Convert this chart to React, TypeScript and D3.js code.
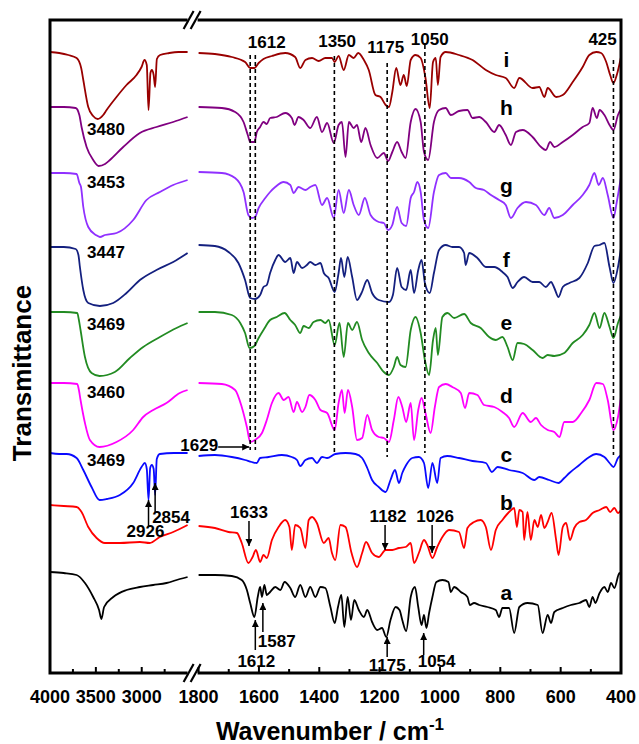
import React, { useEffect, useRef } from 'react';
import * as d3 from 'd3';

// transmittance (a.u., offset stacked): [wavenumber, value]
const aLeft = [[4000,10.1],[3850,10.0],[3710,9.8],[3619,9.0],[3529,7.6],[3465,6.3],[3440,5.4],[3410,6.6],[3311,7.6],[3166,8.3],[3020,8.6],[2875,8.8],[2730,9.0],[2585,9.4],[2500,9.6]];
const bLeft = [[4000,16.8],[3850,16.7],[3710,16.6],[3656,16.1],[3583,14.6],[3492,13.5],[3402,13.0],[3238,13.0],[3020,13.1],[2912,13.0],[2803,13.6],[2657,14.1],[2500,14.8]];
const cLeft = [[4000,22.0],[3900,21.9],[3819,21.9],[3710,21.5],[3637,20.3],[3547,18.6],[3460,17.3],[3380,17.4],[3238,17.8],[3093,19.0],[3002,20.6],[2966,21.0],[2945,20.4],[2926,17.3],[2908,20.5],[2890,20.8],[2870,20.4],[2854,17.8],[2836,21.4],[2803,21.9],[2650,22.0],[2500,22.0]];
const dLeft = [[4000,29.0],[3850,29.0],[3703,28.9],[3685,28.3],[3667,27.3],[3619,25.0],[3565,23.3],[3460,22.6],[3275,23.1],[3093,24.3],[2984,25.6],[2875,26.3],[2730,27.0],[2585,28.0],[2500,28.3]];
const eLeft = [[4000,36.1],[3850,36.1],[3703,36.0],[3685,35.3],[3667,34.3],[3619,31.6],[3547,30.0],[3460,29.7],[3293,30.1],[3129,31.5],[2984,32.6],[2802,33.6],[2621,34.5],[2500,35.0]];
const fLeft = [[4000,42.6],[3850,42.6],[3720,42.4],[3690,41.8],[3674,40.6],[3637,38.3],[3583,37.0],[3456,36.7],[3311,37.0],[3166,38.0],[3020,39.3],[2839,40.3],[2657,41.1],[2500,42.0]];
const gLeft = [[4000,50.0],[3850,50.0],[3710,49.9],[3680,49.0],[3662,48.6],[3637,46.6],[3583,44.6],[3500,43.8],[3456,43.6],[3400,43.8],[3274,44.0],[3093,45.3],[2948,47.3],[2802,48.1],[2657,48.8],[2500,49.3]];
const hLeft = [[4000,56.6],[3850,56.6],[3720,56.5],[3680,55.8],[3656,54.6],[3601,52.6],[3529,51.3],[3470,50.7],[3400,50.9],[3347,51.3],[3202,52.6],[3020,54.0],[2839,54.6],[2657,55.1],[2500,55.6]];
const iLeft = [[4000,62.1],[3900,62.0],[3800,61.8],[3710,61.5],[3660,60.5],[3637,59.3],[3583,56.6],[3530,55.7],[3480,55.4],[3420,55.8],[3383,56.3],[3275,57.6],[3166,58.8],[3057,59.8],[3002,60.6],[2970,61.3],[2945,60.8],[2926,56.3],[2905,60.0],[2890,60.3],[2870,59.8],[2854,58.6],[2835,61.4],[2800,61.8],[2700,62.0],[2600,62.1],[2500,62.1]];

const aRight = [[1800,9.8],[1746,9.8],[1690,9.7],[1657,9.3],[1640,8.3],[1629,7.0],[1615,5.6],[1604,7.6],[1596,8.6],[1590,7.6],[1582,8.8],[1574,7.8],[1563,8.1],[1546,8.6],[1529,8.3],[1515,9.1],[1496,8.5],[1480,7.6],[1463,8.8],[1446,7.6],[1430,8.6],[1413,7.6],[1396,8.6],[1380,8.5],[1363,6.6],[1349,5.0],[1338,6.6],[1327,7.8],[1317,4.6],[1306,7.6],[1295,5.3],[1284,7.3],[1269,6.3],[1252,5.6],[1241,6.3],[1225,5.1],[1208,4.3],[1192,4.5],[1178,3.6],[1164,5.3],[1147,6.6],[1134,6.3],[1125,5.3],[1112,4.2],[1097,7.6],[1083,8.6],[1072,6.6],[1061,4.8],[1053,5.8],[1045,4.5],[1036,6.0],[1025,7.6],[1012,9.1],[992,9.3],[972,9.1],[964,8.1],[953,8.6],[931,8.1],[909,7.6],[901,6.8],[887,7.0],[870,6.8],[843,6.6],[815,6.3],[804,5.6],[793,6.5],[771,6.5],[754,4.0],[737,6.6],[710,7.0],[676,6.8],[660,4.0],[643,5.8],[632,5.0],[621,6.1],[593,6.5],[566,6.8],[538,7.0],[516,7.3],[505,6.6],[494,7.6],[485,7.0],[471,8.0],[455,8.6],[444,8.1],[433,9.0],[422,8.5],[405,10.0],[400,9.7]];
const bRight = [[1800,14.7],[1746,14.5],[1701,14.1],[1673,14.0],[1657,13.0],[1635,11.0],[1621,11.6],[1610,12.3],[1596,11.1],[1585,11.8],[1574,11.5],[1557,13.3],[1535,14.6],[1513,15.3],[1499,14.6],[1491,12.3],[1480,14.8],[1463,14.5],[1446,12.5],[1435,15.3],[1424,15.6],[1408,15.0],[1385,13.0],[1369,13.5],[1358,12.0],[1347,11.3],[1330,14.8],[1313,14.6],[1293,12.0],[1275,10.6],[1258,12.0],[1245,13.1],[1225,12.0],[1203,11.6],[1180,12.3],[1158,12.3],[1136,12.5],[1114,12.6],[1097,13.0],[1086,11.0],[1070,12.0],[1053,13.3],[1042,12.8],[1025,11.5],[1009,12.6],[992,13.6],[970,14.3],[937,14.1],[920,12.5],[909,14.5],[887,15.1],[865,15.3],[848,14.6],[831,12.3],[815,14.3],[793,15.3],[771,16.1],[754,16.5],[745,14.6],[737,16.3],[726,16.1],[721,13.3],[710,16.1],[699,13.3],[687,15.3],[676,14.6],[665,15.8],[654,14.5],[643,15.1],[630,16.0],[615,13.3],[607,11.8],[593,14.6],[582,15.0],[569,13.3],[555,14.5],[538,15.1],[516,15.3],[494,16.0],[471,16.3],[449,16.6],[436,16.1],[422,16.5],[410,16.0],[400,16.3]];
const cRight = [[1800,21.7],[1746,21.8],[1690,21.6],[1646,21.3],[1624,21.1],[1607,21.0],[1596,21.5],[1568,21.6],[1524,21.8],[1491,21.6],[1474,21.3],[1463,20.7],[1446,21.3],[1424,21.5],[1408,21.0],[1391,21.6],[1374,21.5],[1347,21.9],[1313,22.0],[1280,21.9],[1258,21.5],[1241,20.5],[1225,19.3],[1203,18.6],[1180,18.1],[1164,19.3],[1149,20.3],[1136,19.0],[1125,20.0],[1112,20.8],[1092,21.5],[1070,21.6],[1053,21.0],[1039,18.5],[1025,21.0],[1009,19.0],[998,21.5],[976,21.7],[937,21.5],[892,21.2],[848,21.0],[828,20.1],[809,20.6],[771,20.3],[726,20.0],[687,19.3],[671,19.6],[638,19.3],[607,19.0],[588,19.5],[571,20.0],[538,20.8],[510,21.5],[482,21.9],[455,21.6],[438,21.0],[425,20.6],[410,21.5],[400,21.8]];
const dRight = [[1800,29.0],[1723,28.9],[1679,28.3],[1657,26.6],[1640,24.6],[1629,23.1],[1613,23.3],[1590,24.0],[1574,25.3],[1557,27.0],[1535,28.0],[1518,27.3],[1502,27.6],[1485,26.1],[1474,27.1],[1457,26.1],[1446,26.6],[1433,27.8],[1413,27.3],[1396,26.3],[1374,26.0],[1349,24.3],[1336,27.0],[1325,28.3],[1316,26.0],[1305,28.3],[1291,26.6],[1275,23.3],[1258,23.5],[1241,25.8],[1225,24.3],[1203,23.6],[1186,23.5],[1169,23.1],[1153,25.3],[1138,27.6],[1125,26.6],[1112,25.1],[1097,27.0],[1086,23.3],[1072,26.3],[1061,27.5],[1048,26.0],[1031,24.0],[1017,26.6],[1003,28.6],[981,28.9],[959,28.6],[931,28.0],[917,26.5],[903,28.0],[876,27.8],[854,26.8],[820,26.6],[793,26.1],[771,25.5],[754,24.6],[726,26.0],[699,25.1],[682,25.5],[665,24.8],[643,24.3],[621,24.1],[604,23.6],[588,25.1],[560,25.1],[532,26.0],[505,27.3],[482,29.0],[460,28.9],[444,27.3],[425,24.3],[410,25.6],[400,27.6]];
const eRight = [[1800,36.1],[1746,36.1],[1690,35.8],[1662,35.0],[1646,34.0],[1631,32.5],[1615,32.7],[1601,33.5],[1585,34.3],[1563,35.3],[1541,35.6],[1515,36.0],[1496,35.3],[1480,34.8],[1463,34.0],[1452,34.7],[1435,34.5],[1419,35.1],[1396,35.3],[1380,35.0],[1369,35.3],[1349,32.8],[1333,35.0],[1319,31.6],[1305,35.0],[1291,34.3],[1275,35.1],[1258,33.3],[1236,32.0],[1208,31.0],[1186,30.1],[1169,29.8],[1153,30.6],[1142,31.6],[1131,30.8],[1114,30.6],[1097,34.3],[1081,35.6],[1064,34.0],[1050,31.3],[1036,29.8],[1023,33.3],[1014,34.5],[1007,31.8],[992,35.6],[975,36.0],[953,35.5],[920,35.9],[898,35.0],[865,34.5],[837,33.6],[815,33.3],[793,33.6],[776,32.6],[759,31.3],[743,33.0],[721,32.9],[693,32.3],[660,31.5],[643,31.8],[621,31.7],[588,32.0],[560,33.0],[527,33.8],[505,34.8],[488,36.0],[471,34.5],[455,36.0],[438,34.6],[425,33.5],[410,35.0],[400,35.8]];
const fRight = [[1800,42.8],[1746,42.7],[1701,42.1],[1668,41.0],[1646,39.3],[1629,37.5],[1613,37.4],[1596,37.8],[1585,38.6],[1574,38.8],[1563,40.0],[1546,41.3],[1535,41.8],[1513,41.1],[1496,41.5],[1485,40.0],[1474,41.1],[1457,40.5],[1441,40.8],[1430,41.1],[1413,40.8],[1396,41.0],[1385,40.0],[1369,39.5],[1349,38.1],[1336,40.0],[1328,41.5],[1317,39.6],[1306,41.6],[1291,39.6],[1275,37.3],[1260,38.0],[1241,39.3],[1225,38.0],[1203,37.3],[1169,37.1],[1156,37.8],[1142,40.5],[1127,38.6],[1112,38.3],[1097,40.3],[1086,38.0],[1072,40.3],[1061,41.3],[1050,39.0],[1034,38.0],[1020,40.0],[1003,42.3],[981,42.8],[959,42.6],[937,42.6],[920,42.0],[915,40.8],[903,42.0],[876,41.5],[848,40.6],[820,40.6],[793,40.1],[776,39.6],[759,38.5],[743,39.1],[721,39.6],[693,39.1],[671,39.1],[649,38.6],[632,39.1],[621,38.5],[607,37.6],[593,38.6],[571,39.0],[538,39.5],[510,41.0],[488,42.7],[471,42.8],[455,43.0],[438,40.6],[425,39.0],[410,40.6],[400,42.5]];
const gRight = [[1800,50.1],[1723,50.0],[1679,49.5],[1651,48.1],[1635,45.8],[1624,45.5],[1613,45.6],[1601,46.5],[1579,47.5],[1563,48.1],[1546,48.6],[1518,49.1],[1496,48.8],[1485,48.0],[1469,48.6],[1446,48.3],[1430,48.6],[1413,48.8],[1391,46.8],[1374,47.5],[1352,45.5],[1336,48.3],[1319,46.0],[1302,48.3],[1286,46.8],[1269,45.8],[1249,47.5],[1230,45.8],[1203,45.1],[1186,45.0],[1172,44.3],[1158,44.8],[1142,46.6],[1127,45.0],[1112,44.7],[1097,47.5],[1086,48.1],[1075,49.1],[1064,48.1],[1053,45.3],[1039,44.5],[1020,48.1],[1003,49.8],[981,50.0],[964,49.5],[937,49.5],[903,49.1],[881,48.5],[854,48.3],[831,47.8],[804,47.3],[782,46.8],[765,45.5],[743,46.5],[715,47.1],[682,46.8],[654,45.8],[638,46.5],[621,45.5],[593,45.8],[560,46.8],[527,47.8],[505,48.8],[488,50.0],[474,48.8],[460,49.5],[444,47.8],[425,45.5],[414,47.1],[400,49.6]];
const hRight = [[1800,56.6],[1723,56.5],[1679,56.1],[1651,55.1],[1637,53.8],[1629,53.1],[1615,53.1],[1607,54.1],[1596,54.6],[1585,55.1],[1574,54.9],[1563,55.5],[1541,55.6],[1513,56.0],[1491,55.5],[1482,54.8],[1469,55.6],[1452,55.3],[1430,54.5],[1408,55.6],[1391,54.1],[1374,55.0],[1352,53.0],[1336,54.8],[1325,55.1],[1313,51.6],[1302,55.1],[1286,54.5],[1275,54.8],[1261,53.1],[1247,54.5],[1230,52.8],[1208,51.5],[1186,52.0],[1172,51.2],[1158,52.1],[1142,53.1],[1127,52.1],[1114,51.5],[1097,55.1],[1081,56.4],[1064,55.1],[1053,52.1],[1039,51.3],[1020,55.1],[1003,56.3],[981,56.5],[964,55.8],[937,56.2],[909,56.3],[892,55.5],[870,55.6],[848,55.1],[820,54.1],[804,54.8],[782,53.8],[765,52.8],[748,54.1],[726,54.3],[693,53.6],[665,52.6],[649,52.3],[635,53.1],[621,52.6],[593,53.1],[560,53.8],[527,54.6],[505,55.0],[494,56.5],[480,55.5],[471,56.3],[455,55.8],[438,54.8],[425,54.3],[410,55.8],[400,56.4]];
const iRight = [[1800,62.0],[1746,61.9],[1690,61.6],[1646,61.1],[1629,60.5],[1615,60.5],[1601,61.0],[1585,61.4],[1557,61.7],[1513,62.0],[1480,61.6],[1463,60.5],[1446,61.3],[1424,61.5],[1402,61.2],[1380,61.5],[1358,61.5],[1349,61.1],[1336,61.7],[1319,60.3],[1302,61.8],[1286,61.5],[1271,62.0],[1252,61.3],[1236,60.3],[1214,57.8],[1197,57.6],[1180,56.8],[1169,56.6],[1158,58.1],[1145,60.5],[1131,58.8],[1120,59.8],[1110,58.7],[1097,61.3],[1081,61.8],[1064,61.5],[1048,59.5],[1034,56.5],[1023,61.1],[1014,61.5],[1007,58.8],[998,61.6],[981,62.1],[937,61.8],[892,61.3],[848,60.3],[815,59.8],[782,59.5],[754,58.5],[737,59.5],[693,58.5],[671,58.6],[654,57.6],[643,58.5],[615,57.6],[593,57.8],[560,59.1],[527,60.6],[505,61.8],[482,62.1],[466,62.0],[449,61.1],[436,59.8],[425,59.0],[414,59.8],[400,61.6]];

const seriesNames = ['a', 'b', 'c', 'd', 'e', 'f', 'g', 'h', 'i'];
const seriesColors = ['#000000', '#ff0000', '#0a0aff', '#ff00ff', '#228b22', '#14207f', '#9030ff', '#800080', '#990000'];
const leftData = [aLeft, bLeft, cLeft, dLeft, eLeft, fLeft, gLeft, hLeft, iLeft];
const rightData = [aRight, bRight, cRight, dRight, eRight, fRight, gRight, hRight, iRight];
// baseline of each letter label (wavenumber 780)
const letterY = [7.3, 16.3, 21.1, 27.0, 34.3, 40.6, 48.0, 55.8, 60.6];

// O-H band labels on the left part
const ohLabels = ['3469', '3460', '3469', '3447', '3453', '3480'];
const ohLabelY = [20.7, 27.5, 34.3, 41.5, 48.5, 53.8];

// dashed guide lines
const guideWn = [1629, 1612, 1350, 1175, 1050, 425];
const guideTop = [61.8, 61.8, 61.7, 61.0, 62.8, 61.3];
const guideBottom = [22.3, 22.3, 22.0, 21.6, 22.0, 21.8];
const topLabels = ['1612', '1350', '1175', '1050', '425'];
const topLabelWn = [1574, 1341, 1180, 1034, 461];
const topLabelY = [62.5, 62.6, 62.0, 62.8, 62.8];

// arrow annotations: part, wavenumber, tail, head, label, label baseline, label dx, anchor
const arrowNotes = [
  { part: 'L', wn: 2926, tail: 14.6, head: 17.3, text: '2926', ty: 13.6, dx: -3, anchor: 'middle' },
  { part: 'L', wn: 2854, tail: 16.1, head: 19.0, text: '2854', ty: 15.0, dx: -3, anchor: 'start' },
  { part: 'R', wn: 1633, tail: 15.2, head: 12.7, text: '1633', ty: 15.5, dx: 0, anchor: 'middle' },
  { part: 'R', wn: 1182, tail: 14.8, head: 12.3, text: '1182', ty: 15.1, dx: 3, anchor: 'middle' },
  { part: 'R', wn: 1026, tail: 14.8, head: 12.0, text: '1026', ty: 15.1, dx: 3, anchor: 'middle' },
  { part: 'R', wn: 1612, tail: 2.3, head: 5.3, text: '1612', ty: 0.6, dx: 1, anchor: 'middle' },
  { part: 'R', wn: 1587, tail: 4.1, head: 7.0, text: '1587', ty: 2.6, dx: -5, anchor: 'start' },
  { part: 'R', wn: 1175, tail: 1.6, head: 3.6, text: '1175', ty: 0.2, dx: 0, anchor: 'middle' },
  { part: 'R', wn: 1054, tail: 1.8, head: 4.0, text: '1054', ty: 0.6, dx: -6, anchor: 'start' },
];

const leftTicks = [4000, 3750, 3500, 3250, 3000, 2750];
const leftTickLabels = [4000, 3500, 3000];
const rightTicks = d3.range(1800, 399, -100);
const rightTickLabels = [1800, 1600, 1400, 1200, 1000, 800, 600, 400];

const W = 639;
const H = 744;
const FONT = '"Liberation Sans", Arial, sans-serif';

export default function App() {
  const ref = useRef<SVGSVGElement>(null);

  useEffect(() => {
    const svg = d3.select(ref.current);
    svg.selectAll('*').remove();

    const top = 20, bottom = 673, left = 50, right = 621;
    const xL = d3.scaleLinear().domain([4000, 2500]).range([left, 187.6]);
    const xR = d3.scaleLinear().domain([1800, 400]).range([198.6, right]);
    const y = d3.scaleLinear().domain([0, 65.3]).range([bottom, top]);

    svg.append('rect').attr('width', W).attr('height', H).attr('fill', '#fff');

    const defs = svg.append('defs');
    defs.append('marker')
      .attr('id', 'ah')
      .attr('viewBox', '0 0 10 10')
      .attr('refX', 10).attr('refY', 5)
      .attr('markerWidth', 9).attr('markerHeight', 7)
      .attr('markerUnits', 'userSpaceOnUse')
      .attr('orient', 'auto')
      .append('path').attr('d', 'M0,0L10,5L0,10Z').attr('fill', '#000');

    // spectra
    const lineL = d3.line<number[]>().x(d => xL(d[0])).y(d => y(d[1])).curve(d3.curveMonotoneX);
    const lineR = d3.line<number[]>().x(d => xR(d[0])).y(d => y(d[1])).curve(d3.curveMonotoneX);
    seriesNames.forEach((name, i) => {
      const g = svg.append('g').attr('class', 'series-' + name)
        .attr('fill', 'none').attr('stroke', seriesColors[i])
        .attr('stroke-width', 1.8).attr('stroke-linejoin', 'round');
      g.append('path').attr('d', lineL(leftData[i]));
      g.append('path').attr('d', lineR(rightData[i]));
    });

    // dashed guides
    guideWn.forEach((wn, i) => {
      svg.append('line')
        .attr('x1', xR(wn)).attr('x2', xR(wn))
        .attr('y1', y(guideTop[i])).attr('y2', y(guideBottom[i]))
        .attr('stroke', '#000').attr('stroke-width', 1.6)
        .attr('stroke-dasharray', '4,3');
    });

    const txt = (x: number, yy: number, s: string, size: number, anchor = 'middle') =>
      svg.append('text').attr('x', x).attr('y', yy).attr('text-anchor', anchor)
        .attr('font-family', FONT).attr('font-weight', 'bold')
        .attr('font-size', size).attr('fill', '#000').text(s);

    topLabels.forEach((s, i) => txt(xR(topLabelWn[i]), y(topLabelY[i]), s, 17));
    ohLabels.forEach((s, i) => txt(xL(3390), y(ohLabelY[i]), s, 17));
    seriesNames.forEach((s, i) => txt(xR(780), y(letterY[i]), s, 21));

    // 1629 horizontal arrow
    svg.append('line')
      .attr('x1', xR(1629) - 32).attr('x2', xR(1629) - 1)
      .attr('y1', y(22.6)).attr('y2', y(22.6))
      .attr('stroke', '#000').attr('stroke-width', 1.5)
      .attr('marker-end', 'url(#ah)');
    txt(xR(1629) - 32, y(22.2), '1629', 17, 'end');

    arrowNotes.forEach(n => {
      const sx = n.part === 'L' ? xL : xR;
      const x = sx(n.wn);
      svg.append('line')
        .attr('x1', x).attr('x2', x)
        .attr('y1', y(n.tail)).attr('y2', y(n.head))
        .attr('stroke', '#000').attr('stroke-width', 1.5)
        .attr('marker-end', 'url(#ah)');
      txt(x + n.dx, y(n.ty), n.text, 17, n.anchor);
    });

    // frame with axis break
    const xBreakL = xL(2500), xBreakR = xR(1800) - 1;
    const frame = svg.append('g').attr('stroke', '#000').attr('stroke-width', 3).attr('fill', 'none');
    frame.append('path').attr('d', `M${xBreakL},${top}H${left}V${bottom}H${xBreakL}`);
    frame.append('path').attr('d', `M${xBreakR},${top}H${right}V${bottom}H${xBreakR}`);
    [top, bottom].forEach(yy => {
      [-4, 3].forEach(off => {
        const cx = (xBreakL + xBreakR) / 2 + off;
        svg.append('line')
          .attr('x1', cx - 5).attr('y1', yy + 9)
          .attr('x2', cx + 5).attr('y2', yy - 9)
          .attr('stroke', '#000').attr('stroke-width', 2.2);
      });
    });

    // ticks (inward)
    leftTicks.forEach(t => {
      svg.append('line').attr('x1', xL(t)).attr('x2', xL(t))
        .attr('y1', bottom).attr('y2', bottom - (leftTickLabels.includes(t) ? 6 : 4))
        .attr('stroke', '#000').attr('stroke-width', 2);
    });
    rightTicks.forEach(t => {
      svg.append('line').attr('x1', xR(t)).attr('x2', xR(t))
        .attr('y1', bottom).attr('y2', bottom - (rightTickLabels.includes(t) ? 6 : 4))
        .attr('stroke', '#000').attr('stroke-width', 2);
    });
    leftTickLabels.forEach(t => txt(xL(t), 703, String(t), 18));
    rightTickLabels.forEach(t => txt(xR(t), 703, String(t), 18));

    // axis titles
    const xt = svg.append('text').attr('x', 330).attr('y', 740).attr('text-anchor', 'middle')
      .attr('font-family', FONT).attr('font-weight', 'bold').attr('font-size', 25);
    xt.append('tspan').text('Wavenumber / cm');
    xt.append('tspan').attr('dy', -10).attr('font-size', 17).text('-1');

    svg.append('text')
      .attr('transform', `translate(31,${(283 + 463) / 2}) rotate(-90)`)
      .attr('text-anchor', 'middle')
      .attr('font-family', FONT).attr('font-weight', 'bold').attr('font-size', 26)
      .text('Transmittance');
  }, []);

  return (
    <div style={{ position: 'absolute', left: 0, top: 0 }}>
      <svg ref={ref} width={W} height={H} style={{ display: 'block' }} />
    </div>
  );
}
